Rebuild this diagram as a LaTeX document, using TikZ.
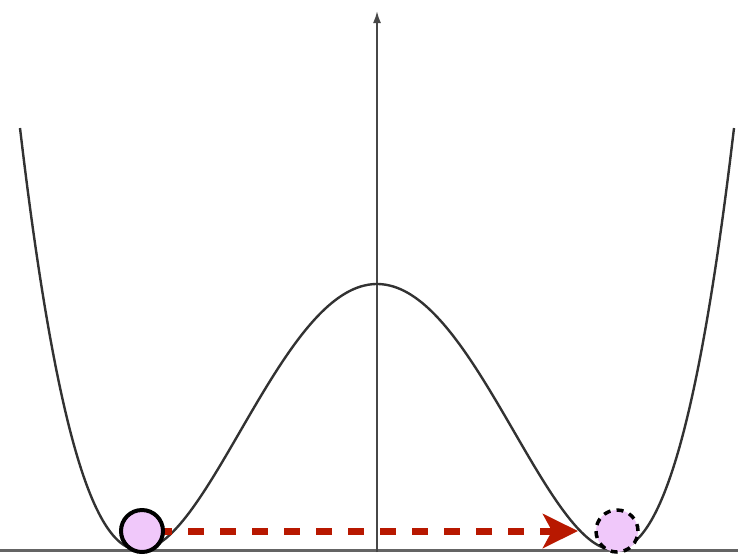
\documentclass[tikz,border=0pt]{standalone}
\usetikzlibrary{arrows.meta}
\definecolor{ballfill}{RGB}{240,200,250}
\definecolor{arrowred}{RGB}{184,24,0}
\definecolor{axisgray}{RGB}{100,100,100}
\definecolor{curvegray}{RGB}{50,50,50}
\tikzset{
  axisline/.style={draw=axisgray, line width=3pt},
  vaxis/.style={draw=curvegray!90, line width=1.8pt, -{Latex[length=12pt,width=8pt]}},
  wellcurve/.style={draw=curvegray, line width=2.4pt, smooth},
  ball/.style={circle, fill=ballfill, draw=black, minimum size=42pt, inner sep=0pt},
  ballsolid/.style={ball, line width=4pt},
  balldashed/.style={ball, line width=3.5pt, dash pattern=on 7pt off 6.2pt},
  jump/.style={draw=arrowred, line width=7pt, dash pattern=on 16pt off 16pt, dash phase=18pt,
    -{Stealth[length=35pt,width=34pt,inset=9pt]}, shorten >=39pt}
}
\begin{document}
\begin{tikzpicture}[x=1pt,y=-1pt]
\useasboundingbox (0,0) rectangle (738,558);
\coordinate (hl) at (0,550);
\coordinate (hr) at (738,550);
\coordinate (vb) at (377,552);
\coordinate (vt) at (377,11);
\draw[axisline] (hl) -- (hr);
\draw[vaxis] (vb) -- (vt);
\draw[wellcurve, samples=200, domain=-357:357, variable=\u]
  plot ({377+\u},{550-266*(1-(\u/237.5)*(\u/237.5))*(1-(\u/237.5)*(\u/237.5))});
\coordinate (Lc) at (142,531);
\coordinate (Rc) at (617,531);
\draw[jump] (Lc) -- (Rc);
\node[ballsolid] (L) at (Lc) {};
\node[balldashed] (R) at (Rc) {};
\end{tikzpicture}
\end{document}
